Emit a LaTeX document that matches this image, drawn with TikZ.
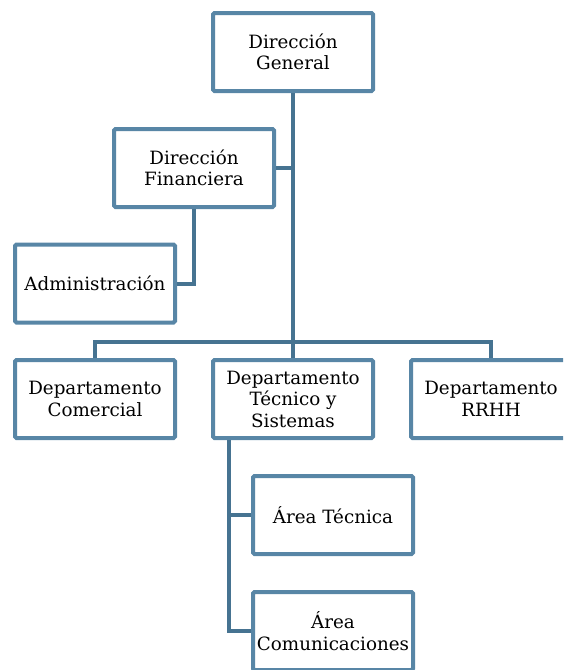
\documentclass[tikz,border=0pt]{standalone}
\usepackage{fontspec}
\setmainfont{DejaVu Serif}
\definecolor{boxline}{RGB}{88,134,166}
\definecolor{conline}{RGB}{70,115,145}
\begin{document}
\begin{tikzpicture}[x=1pt,y=-1pt,
  orgbox/.style={draw=boxline,line width=4pt,fill=white,rounded corners=1.5pt,
    minimum width=160pt,minimum height=78pt,align=center,inner sep=0pt,
    font=\fontsize{18.3}{21.5}\selectfont},
  conn/.style={draw=conline,line width=4pt}]
\useasboundingbox (0,0) rectangle (563,670);
\clip (0,0) rectangle (563,670);
\node[orgbox] (dg) at (293,52) {Dirección\\General};
\node[orgbox] (df) at (194,168) {Dirección\\Financiera};
\node[orgbox] (ad) at (95,283.5) {Administración};
\node[orgbox] (dc) at (95,399) {Departamento\\Comercial};
\node[orgbox] (dt) at (293,399) {Departamento\\Técnico y\\Sistemas};
\node[orgbox] (rr) at (491,399) {Departamento\\RRHH};
\node[orgbox] (at) at (333,515) {Área Técnica};
\node[orgbox] (ac) at (333,631) {Área\\Comunicaciones};
\coordinate (bar) at (293,342);
\draw[conn] (dg.south) -- (bar);
\draw[conn] (df.east) -- (dg.south |- df.east);
\draw[conn] (df.south) |- (ad.east);
\draw[conn] (dc.north) -- (dc.north |- bar) -- (rr.north |- bar) -- (rr.north);
\draw[conn] (bar) -- (dt.north);
\draw[conn] (dt.south -| 229,0) |- (at.west);
\draw[conn] (dt.south -| 229,0) |- (ac.west);
\end{tikzpicture}
\end{document}
